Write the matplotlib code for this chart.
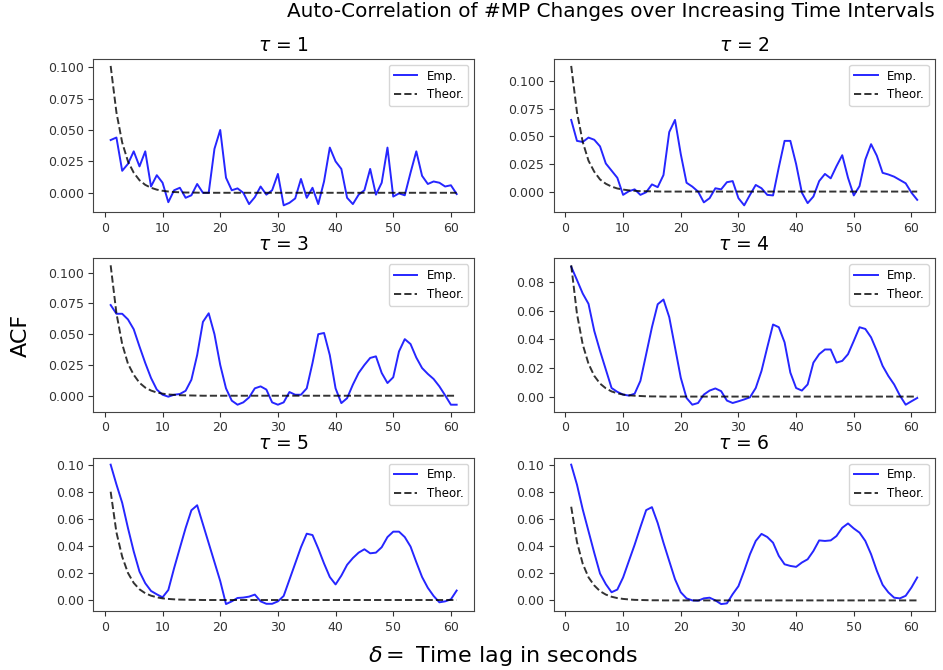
import numpy as np
import matplotlib
matplotlib.use('Agg')
import matplotlib.pyplot as plt

# lag values (seconds)
lags = list(range(1, 62))
taus = [1, 2, 3, 4, 5, 6]

emp_1 = [0.042, 0.044, 0.0175, 0.023, 0.033, 0.021, 0.033, 0.005, 0.014, 0.008,
         -0.0075, 0.002, 0.004, -0.004, -0.002, 0.007, 0.0, 0.0, 0.035, 0.050,
         0.012, 0.002, 0.0035, 0.0, -0.009, -0.0035, 0.005, -0.0015, 0.002, 0.015,
         -0.010, -0.008, -0.0045, 0.011, -0.004, 0.004, -0.009, 0.009, 0.036, 0.025,
         0.019, -0.004, -0.009, -0.0015, 0.002, 0.019, -0.0015, 0.008, 0.036, -0.003,
         -0.0005, -0.002, 0.016, 0.033, 0.0135, 0.007, 0.009, 0.008, 0.005, 0.006,
         -0.001]
emp_2 = [0.065, 0.046, 0.045, 0.049, 0.047, 0.041, 0.0255, 0.019, 0.0125, -0.003,
         0.0003, 0.002, -0.003, -0.0006, 0.0065, 0.004, 0.015, 0.054, 0.065, 0.034,
         0.008, 0.0045, 0.0, -0.0098, -0.006, 0.003, 0.002, 0.0085, 0.0095, -0.006,
         -0.0125, -0.003, 0.006, 0.003, -0.003, -0.0035, 0.022, 0.046, 0.046, 0.025,
         -0.001, -0.0105, -0.0045, 0.0095, 0.016, 0.012, 0.023, 0.033, 0.0125, -0.0035,
         0.005, 0.029, 0.043, 0.0325, 0.017, 0.0155, 0.0135, 0.0105, 0.0075, -0.001,
         -0.0075]
emp_3 = [0.0737, 0.0666, 0.0666, 0.062, 0.054, 0.040, 0.0266, 0.0144, 0.005, 0.0008,
         -0.0008, 0.0008, 0.0014, 0.004, 0.013, 0.033, 0.060, 0.067, 0.050, 0.025,
         0.006, -0.004, -0.0073, -0.0054, -0.0014, 0.006, 0.0076, 0.005, -0.0054, -0.0073,
         -0.0054, 0.003, 0.0008, 0.0008, 0.006, 0.0266, 0.050, 0.051, 0.033, 0.006,
         -0.006, -0.002, 0.009, 0.0185, 0.025, 0.0307, 0.032, 0.0185, 0.0103, 0.015,
         0.036, 0.046, 0.042, 0.031, 0.0225, 0.0177, 0.0136, 0.0076, 0.0003, -0.0073,
         -0.0073]
emp_4 = [0.091, 0.0817, 0.0722, 0.065, 0.046, 0.032, 0.019, 0.006, 0.0033, 0.0014,
         0.0007, 0.002, 0.011, 0.0297, 0.0486, 0.0647, 0.068, 0.0557, 0.0345, 0.0132,
         -0.001, -0.0057, -0.0045, 0.0014, 0.0042, 0.0057, 0.0038, -0.0028, -0.0045, -0.0033,
         -0.002, -0.0005, 0.006, 0.018, 0.0345, 0.0505, 0.0486, 0.038, 0.0168, 0.006,
         0.0042, 0.0085, 0.0238, 0.0297, 0.033, 0.033, 0.0238, 0.025, 0.0297, 0.039,
         0.0486, 0.0474, 0.0415, 0.032, 0.0215, 0.0144, 0.0085, 0.0007, -0.0057, -0.0033,
         -0.001]
emp_5 = [0.100, 0.0854, 0.0718, 0.0532, 0.0359, 0.021, 0.0124, 0.0067, 0.0042, 0.002,
         0.0074, 0.0235, 0.0384, 0.0532, 0.0663, 0.070, 0.056, 0.042, 0.028, 0.014,
         -0.003, -0.001, 0.0015, 0.0018, 0.0025, 0.004, -0.001, -0.0028, -0.0028, -0.001,
         0.003, 0.015, 0.027, 0.039, 0.049, 0.048, 0.038, 0.027, 0.017, 0.0115,
         0.018, 0.026, 0.031, 0.035, 0.0375, 0.0345, 0.035, 0.039, 0.0465, 0.0505,
         0.0505, 0.0465, 0.0395, 0.028, 0.017, 0.009, 0.003, -0.0017, -0.001, 0.0005,
         0.007]
emp_6 = [0.100, 0.0853, 0.067, 0.051, 0.035, 0.0198, 0.012, 0.006, 0.008, 0.0169,
         0.029, 0.041, 0.054, 0.0665, 0.0687, 0.057, 0.0425, 0.029, 0.0156, 0.006,
         0.0015, 0.0, -0.0002, 0.0015, 0.002, 0.0, -0.0027, -0.0022, 0.0046, 0.0105,
         0.0218, 0.034, 0.0438, 0.049, 0.0467, 0.0425, 0.0328, 0.0266, 0.0254, 0.0247,
         0.0279, 0.0303, 0.0364, 0.0442, 0.0438, 0.0442, 0.0474, 0.0535, 0.0567, 0.053,
         0.0499, 0.0438, 0.034, 0.0218, 0.0115, 0.0059, 0.002, 0.0015, 0.0034, 0.0095,
         0.0169]

# theoretical ACF per tau (flat at zero after the first ~16 lags)
theo_1 = [0.101, 0.064, 0.040, 0.025, 0.016, 0.010, 0.0063, 0.0040, 0.0025, 0.0016,
          0.0010, 0.0006, 0.0004, 0.0002, 0.0002, 0.0001] + [0.0] * 45
theo_2 = [0.114, 0.072, 0.045, 0.028, 0.018, 0.011, 0.0071, 0.0045, 0.0028, 0.0018,
          0.0011, 0.0007, 0.0004, 0.0003, 0.0002, 0.0001] + [0.0] * 45
theo_3 = [0.106, 0.067, 0.042, 0.026, 0.017, 0.0105, 0.0066, 0.0042, 0.0026, 0.0017,
          0.0010, 0.0007, 0.0004, 0.0003, 0.0002, 0.0001] + [0.0] * 45
theo_4 = [0.092, 0.058, 0.0365, 0.023, 0.0145, 0.0091, 0.0058, 0.0036, 0.0023, 0.0014,
          0.0009, 0.0006, 0.0004, 0.0002, 0.0001, 0.0001] + [0.0] * 45
theo_5 = [0.080, 0.050, 0.032, 0.020, 0.0126, 0.0079, 0.0050, 0.0032, 0.0020, 0.0012,
          0.0008, 0.0005, 0.0003, 0.0002, 0.0001, 0.0001] + [0.0] * 45
theo_6 = [0.069, 0.043, 0.027, 0.017, 0.011, 0.0068, 0.0043, 0.0027, 0.0017, 0.0011,
          0.0007, 0.0004, 0.0003, 0.0002, 0.0001, 0.0001] + [0.0] * 45

emp = [emp_1, emp_2, emp_3, emp_4, emp_5, emp_6]
theo = [theo_1, theo_2, theo_3, theo_4, theo_5, theo_6]

fig, axes = plt.subplots(3, 2, figsize=(9.43, 6.70), dpi=100)
fig.subplots_adjust(left=0.099, right=0.991, bottom=0.088, top=0.912,
                    wspace=0.21, hspace=0.30)

for ax, tau, e, t in zip(axes.flat, taus, emp, theo):
    ax.plot(lags, e, color='blue', lw=1.4, alpha=0.85, label='Emp.')
    ax.plot(lags, t, 'k--', lw=1.4, alpha=0.8, label='Theor.')
    ax.set_title(r'$\tau$ = %d' % tau, fontsize=13.5)
    ax.tick_params(labelsize=9, colors='#333333')
    ax.legend(loc='upper right', fontsize=8.5)
    for sp in ax.spines.values():
        sp.set_color('#444444')

fig.text(0.991, 0.997, 'Auto-Correlation of #MP Changes over Increasing Time Intervals',
         ha='right', va='top', fontsize=14.4)
fig.text(0.534, 0.003, r'$\delta = $ Time lag in seconds', ha='center', va='bottom',
         fontsize=16)
fig.text(0.011, 0.5, 'ACF', rotation=90, ha='left', va='center', fontsize=16)

plt.savefig('out.png', dpi=100)
plt.close()
